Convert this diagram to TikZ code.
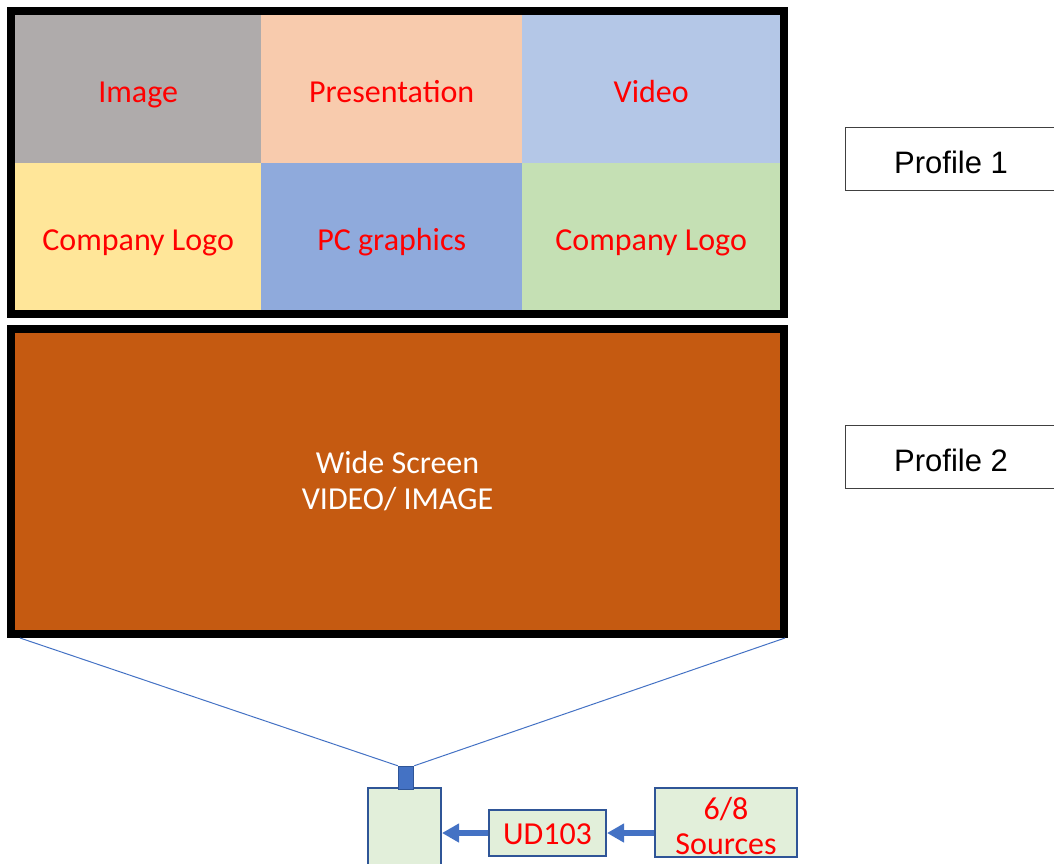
\documentclass[tikz,border=0pt]{standalone}
\usepackage{fontspec}
\setmainfont{Carlito}
\newfontfamily\arialfont{Liberation Sans}
\usetikzlibrary{arrows.meta}
\definecolor{cgray}{HTML}{AFABAB}
\definecolor{cpeach}{HTML}{F8CBAD}
\definecolor{clblue}{HTML}{B4C7E7}
\definecolor{cyellow}{HTML}{FFE699}
\definecolor{cblue}{HTML}{8FAADC}
\definecolor{cgreen}{HTML}{C5E0B4}
\definecolor{corange}{HTML}{C55A11}
\definecolor{accent}{HTML}{4472C4}
\definecolor{darkblue}{HTML}{2F5597}
\definecolor{lgreen}{HTML}{E2EFDA}
\begin{document}
\begin{tikzpicture}[x=1pt,y=-1pt,
  cell/.style={inner sep=0pt, anchor=north west, text=red, font=\fontsize{32}{38}\selectfont, minimum height=148pt, text height=26pt, text depth=0pt},
  frame/.style={draw=black, line width=8pt, inner sep=0pt, minimum width=773pt},
  profile/.style={draw=black!75, line width=1pt, inner sep=0pt, minimum width=212pt, minimum height=63pt, text height=29pt, text depth=0pt, font=\arialfont\fontsize{31}{34}\selectfont},
  gbox/.style={draw=darkblue, line width=2pt, fill=lgreen, inner sep=0pt},
  gtext/.style={inner sep=0pt, text=red, align=center, font=\fontsize{32}{35}\selectfont},
  feed/.style={draw=accent, line width=1pt},
  bigarrow/.style={draw=accent, line width=5.5pt, -{Triangle[length=17pt,width=18pt]}}
]
\useasboundingbox (0,0) rectangle (1054,863);
% cells of profile 1
\node[cell, fill=cgray,   minimum width=246pt] (c11) at (15,15)  {Image};
\node[cell, fill=cpeach,  minimum width=261pt] (c12) at (261,15) {Presentation};
\node[cell, fill=clblue,  minimum width=258pt] (c13) at (522,15) {Video};
\node[cell, fill=cyellow, minimum width=246pt] (c21) at (15,163) {Company Logo};
\node[cell, fill=cblue,   minimum width=261pt] (c22) at (261,163) {PC graphics};
\node[cell, fill=cgreen,  minimum width=258pt] (c23) at (522,163) {Company Logo};
\node[frame, minimum height=303pt] (f1) at (397.5,162.5) {};
% profile 2
\node[frame, fill=corange, minimum height=305pt, text=white, align=center,
      font=\fontsize{32}{36}\selectfont] (f2) at (397.5,481.5) {Wide Screen\\VIDEO/ IMAGE};
% profile labels
\node[profile] (p1) at (951,158.5) {Profile 1};
\node[profile] (p2) at (951,456.5) {Profile 2};
% device
\node[gbox, minimum width=73pt, minimum height=84pt] (pc) at (404.5,830) {};
\node[draw=darkblue, fill=accent, line width=1.5pt, inner sep=0pt, minimum width=15pt, minimum height=23pt] (port) at (406,778) {};
\coordinate (l1) at (20,638);
\coordinate (l2) at (785,638);
\draw[feed] (l1) -- (port.north west);
\draw[feed] (l2) -- (port.north east);
\node[gbox, minimum width=117pt, minimum height=46pt] (ud) at (547.5,833) {};
\node[gtext] (udt) at ([yshift=-1pt]ud.center) {UD103};
\node[gbox, minimum width=142pt, minimum height=69pt] (src) at (726,822.5) {};
\node[gtext] (srct) at ([yshift=-3pt]src.center) {6/8\\Sources};
\draw[bigarrow] (src.west |- ud.east) -- (ud.east);
\draw[bigarrow] (ud.west) -- (pc.east |- ud.west);
\end{tikzpicture}
\end{document}
